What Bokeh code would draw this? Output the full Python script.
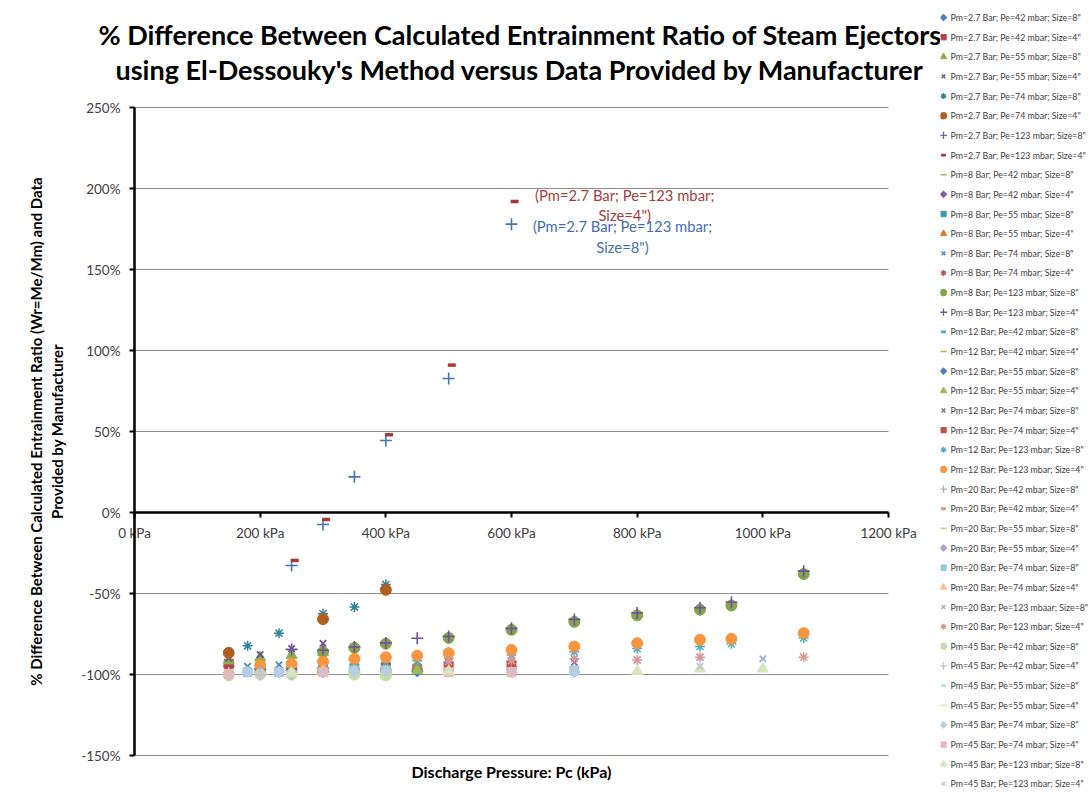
import numpy as np
from bokeh.plotting import figure
from bokeh.models import (Range1d, FixedTicker, PrintfTickFormatter, LinearAxis,
                          Title, ColumnDataSource)
from bokeh.layouts import row
from bokeh.embed import file_html
from bokeh.resources import INLINE
from bokeh.core.properties import value

# ---------------- data ----------------
SERIES = [
    'Pm=2.7 Bar; Pe=42 mbar; Size=8"', 'Pm=2.7 Bar; Pe=42 mbar; Size=4"',
    'Pm=2.7 Bar; Pe=55 mbar; Size=8"', 'Pm=2.7 Bar; Pe=55 mbar; Size=4"',
    'Pm=2.7 Bar; Pe=74 mbar; Size=8"', 'Pm=2.7 Bar; Pe=74 mbar; Size=4"',
    'Pm=2.7 Bar; Pe=123 mbar; Size=8"', 'Pm=2.7 Bar; Pe=123 mbar; Size=4"',
    'Pm=8 Bar; Pe=42 mbar; Size=8"', 'Pm=8 Bar; Pe=42 mbar; Size=4"',
    'Pm=8 Bar; Pe=55 mbar; Size=8"', 'Pm=8 Bar; Pe=55 mbar; Size=4"',
    'Pm=8 Bar; Pe=74 mbar; Size=8"', 'Pm=8 Bar; Pe=74 mbar; Size=4"',
    'Pm=8 Bar; Pe=123 mbar; Size=8"', 'Pm=8 Bar; Pe=123 mbar; Size=4"',
    'Pm=12 Bar; Pe=42 mbar; Size=8"', 'Pm=12 Bar; Pe=42 mbar; Size=4"',
    'Pm=12 Bar; Pe=55 mbar; Size=8"', 'Pm=12 Bar; Pe=55 mbar; Size=4"',
    'Pm=12 Bar; Pe=74 mbar; Size=8"', 'Pm=12 Bar; Pe=74 mbar; Size=4"',
    'Pm=12 Bar; Pe=123 mbar; Size=8"', 'Pm=12 Bar; Pe=123 mbar; Size=4"',
    'Pm=20 Bar; Pe=42 mbar; Size=8"', 'Pm=20 Bar; Pe=42 mbar; Size=4"',
    'Pm=20 Bar; Pe=55 mbar; Size=8"', 'Pm=20 Bar; Pe=55 mbar; Size=4"',
    'Pm=20 Bar; Pe=74 mbar; Size=8"', 'Pm=20 Bar; Pe=74 mbar; Size=4"',
    'Pm=20 Bar; Pe=123 mbaar; Size=8"', 'Pm=20 Bar; Pe=123 mbar; Size=4"',
    'Pm=45 Bar; Pe=42 mbar; Size=8"', 'Pm=45 Bar; Pe=42 mbar; Size=4"',
    'Pm=45 Bar; Pe=55 mbar; Size=8"', 'Pm=45 Bar; Pe=55 mbar; Size=4"',
    'Pm=45 Bar; Pe=74 mbar; Size=8"', 'Pm=45 Bar; Pe=74 mbar; Size=4"',
    'Pm=45 Bar; Pe=123 mbar; Size=8"', 'Pm=45 Bar; Pe=123 mbar; Size=4"',
]

# discharge pressure (kPa) and % difference, one pair per series
x_27_42_8 = [150, 200, 250];            y_27_42_8 = [-95, -96.5, -97.5]
x_27_42_4 = [150, 200, 250];            y_27_42_4 = [-93.4, -95, -96]
x_27_55_8 = [150, 200, 250, 300];       y_27_55_8 = [-91.5, -89.5, -88, -86.5]
x_27_55_4 = [150, 200, 250, 300];       y_27_55_4 = [-90, -87.7, -84, -80.7]
x_27_74_8 = [180, 230, 300, 350, 400];  y_27_74_8 = [-82.3, -74.5, -62.5, -58.4, -44.5]
x_27_74_4 = [150, 300, 400];            y_27_74_4 = [-86.6, -65.8, -47.7]
x_27_123_8 = [250, 300, 350, 400, 500, 600]; y_27_123_8 = [-32.7, -7.4, 22, 44.4, 82.7, 178]
x_27_123_4 = [255, 305, 405, 505, 605];      y_27_123_4 = [-29.6, -4.3, 48, 91, 192]

x_8_42_8 = [200, 250, 300];             y_8_42_8 = [-98, -97.5, -97]
x_8_42_4 = [200, 250, 300];             y_8_42_4 = [-97, -96.5, -96]
x_8_55_8 = [300, 350, 400, 450];        y_8_55_8 = [-97, -96.5, -96, -96.5]
x_8_55_4 = [300, 350, 400, 450];        y_8_55_4 = [-96, -95.5, -95, -95]
x_8_74_8 = [180, 230, 400, 500];        y_8_74_8 = [-95, -94, -93.5, -93]
x_8_74_4 = [400, 500, 600];             y_8_74_4 = [-93, -92.4, -92]
x_8_123_8 = [300, 350, 400, 500, 600, 700, 800, 900, 950, 1065]
y_8_123_8 = [-86, -83.5, -81, -77.4, -72.4, -67.5, -63.5, -60, -57.4, -38]
x_8_123_4 = [250, 300, 350, 400, 450, 500, 600, 700, 800, 900, 950, 1065]
y_8_123_4 = [-84.5, -85, -83, -80.5, -77.6, -76.5, -71.5, -66, -62, -58.8, -55.4, -36.2]

x_12_42_8 = [200, 250];                 y_12_42_8 = [-99, -98.5]
x_12_42_4 = [200, 250];                 y_12_42_4 = [-98.5, -98]
x_12_55_8 = [300, 350, 400, 450];       y_12_55_8 = [-98.5, -98.5, -98, -98]
x_12_55_4 = [300, 350, 400, 450];       y_12_55_4 = [-97.5, -97.5, -97, -97.5]
x_12_74_8 = [400, 500, 600, 700];       y_12_74_8 = [-95, -94.5, -93.5, -92.5]
x_12_74_4 = [400, 500, 600];            y_12_74_4 = [-96, -95, -94.5]
x_12_123_8 = [300, 350, 400, 450, 500, 600, 700, 800, 900, 950, 1065]
y_12_123_8 = [-95, -93.5, -92.5, -91.5, -90, -88, -86, -84, -82.7, -81, -77.4]
x_12_123_4 = [200, 250, 300, 350, 400, 450, 500, 600, 700, 800, 900, 950, 1065]
y_12_123_4 = [-94.4, -93.4, -92, -90.3, -89.3, -88.3, -86.8, -84.8, -82.7, -80.7, -78.6, -78, -74.5]

x_20_42_8 = [150, 200];                 y_20_42_8 = [-99, -99]
x_20_42_4 = [150, 200];                 y_20_42_4 = [-99.5, -99.5]
x_20_55_8 = [200, 250, 300];            y_20_55_8 = [-99, -99, -99]
x_20_55_4 = [200, 250, 300];            y_20_55_4 = [-98.5, -98.5, -98.5]
x_20_74_8 = [180, 230, 350, 400, 700];  y_20_74_8 = [-98.6, -98.6, -97.5, -97.5, -97.5]
x_20_74_4 = [300, 400, 500];            y_20_74_4 = [-98, -98, -98]
x_20_123_8 = [600, 700, 800, 900, 1000]; y_20_123_8 = [-91.5, -90.3, -91, -89.3, -90.3]
x_20_123_4 = [500, 600, 700, 800, 900, 1065]; y_20_123_4 = [-92, -91.4, -90.3, -91, -89.3, -89.3]

x_45_42_8 = [150, 200, 250, 350, 400];  y_45_42_8 = [-100.5, -100, -100, -100, -100.6]
x_45_42_4 = [150, 200, 250];            y_45_42_4 = [-100, -100, -100]
x_45_55_8 = [250, 300];                 y_45_55_8 = [-100, -100]
x_45_55_4 = [250, 300];                 y_45_55_4 = [-100, -100]
x_45_74_8 = [180, 230, 350, 400, 600, 700]; y_45_74_8 = [-98.6, -98.6, -98, -98, -98.6, -98.6]
x_45_74_4 = [150, 300, 500, 600];       y_45_74_4 = [-99.6, -98.6, -98.6, -98.6]
x_45_123_8 = [250, 500, 800, 900, 1000]; y_45_123_8 = [-99, -98, -98, -96.5, -96.5]
x_45_123_4 = [200, 300, 600, 700, 900]; y_45_123_4 = [-99.6, -99, -97.5, -97, -95]

X_TICKS = [0, 200, 400, 600, 800, 1000, 1200]
Y_TICKS = [-150, -100, -50, 0, 50, 100, 150, 200, 250]
X_MIN, X_MAX = 0, 1200
Y_MIN, Y_MAX = -150, 250

XS = [x_27_42_8, x_27_42_4, x_27_55_8, x_27_55_4, x_27_74_8, x_27_74_4, x_27_123_8, x_27_123_4,
      x_8_42_8, x_8_42_4, x_8_55_8, x_8_55_4, x_8_74_8, x_8_74_4, x_8_123_8, x_8_123_4,
      x_12_42_8, x_12_42_4, x_12_55_8, x_12_55_4, x_12_74_8, x_12_74_4, x_12_123_8, x_12_123_4,
      x_20_42_8, x_20_42_4, x_20_55_8, x_20_55_4, x_20_74_8, x_20_74_4, x_20_123_8, x_20_123_4,
      x_45_42_8, x_45_42_4, x_45_55_8, x_45_55_4, x_45_74_8, x_45_74_4, x_45_123_8, x_45_123_4]
YS = [y_27_42_8, y_27_42_4, y_27_55_8, y_27_55_4, y_27_74_8, y_27_74_4, y_27_123_8, y_27_123_4,
      y_8_42_8, y_8_42_4, y_8_55_8, y_8_55_4, y_8_74_8, y_8_74_4, y_8_123_8, y_8_123_4,
      y_12_42_8, y_12_42_4, y_12_55_8, y_12_55_4, y_12_74_8, y_12_74_4, y_12_123_8, y_12_123_4,
      y_20_42_8, y_20_42_4, y_20_55_8, y_20_55_4, y_20_74_8, y_20_74_4, y_20_123_8, y_20_123_4,
      y_45_42_8, y_45_42_4, y_45_55_8, y_45_55_4, y_45_74_8, y_45_74_4, y_45_123_8, y_45_123_4]

# ---------------- styles ----------------
MARKERS = ["diamond", "square", "triangle", "x", "asterisk", "circle", "cross", "shortdash",
           "longdash", "diamond", "square", "triangle", "x", "asterisk", "circle", "cross",
           "shortdash", "longdash", "diamond", "triangle", "x", "square", "asterisk", "circle",
           "cross", "shortdash", "longdash", "diamond", "square", "triangle", "x", "asterisk",
           "circle", "cross", "shortdash", "longdash", "diamond", "square", "triangle", "x"]
COLORS = ["#4F81BD", "#B5423F", "#8DB04C", "#6F5596", "#2F8299", "#B0601E", "#4572B8", "#A83A36",
          "#9BBB59", "#7B5FA0", "#3D98B3", "#E0782C", "#4F81BD", "#C0504D", "#84A549", "#6E50A0",
          "#4BACC6", "#F79646", "#4F81BD", "#9BBB59", "#8064A2", "#C0504D", "#4BACC6", "#F7963F",
          "#95B3D7", "#D99694", "#C3D69B", "#B3A2C7", "#93CDDD", "#FAC090", "#95B3D7", "#D99694",
          "#CADBAA", "#C4B8D6", "#B7DEE8", "#FCD5B5", "#B9CDE5", "#E6B9B8", "#D7E4BD", "#C9C3D6"]
BK_MARKER = {"diamond": "square", "square": "square", "triangle": "triangle", "x": "x",
             "asterisk": "asterisk", "circle": "circle", "cross": "cross",
             "shortdash": "dash", "longdash": "dash"}
SIZE = {"diamond": 8, "square": 9, "triangle": 11, "x": 9, "asterisk": 10, "circle": 11,
        "cross": 12, "shortdash": 8, "longdash": 11}
LWIDTH = {"diamond": 1, "square": 1, "triangle": 1, "x": 1.8, "asterisk": 1.5, "circle": 1,
          "cross": 1.6, "shortdash": 3.5, "longdash": 2}
ANGLE = {"diamond": np.pi / 4}

FONT = "Lato"
TXT = "#404040"

# ---------------- geometry (canvas pixels) ----------------
W1, W2, H = 940, 150, 794
PL, PR, PT, PB = 134, 888, 107, 755        # edges of the 0..1200 kPa / -150..250 % area
PAD_T, PAD_B = 12, 10                      # extra room so the end tick labels are not clipped
PX = (PR - PL) / (X_MAX - X_MIN)           # px per kPa
PY = (PB - PT) / (Y_MAX - Y_MIN)           # px per %

# ---------------- main plot ----------------
p = figure(width=W1, height=H,
           x_range=Range1d(X_MIN - PL / PX, X_MIN + (W1 - PL) / PX),
           y_range=Range1d(Y_MIN - PAD_B / PY, Y_MAX + PAD_T / PY),
           toolbar_location=None, output_backend="svg", frame_align=False,
           min_border_left=0, min_border_right=0, min_border_top=PT - PAD_T,
           min_border_bottom=H - PB - PAD_B, outline_line_color=None,
           background_fill_color="white")
p.xgrid.visible = False
p.ygrid.visible = False
p.xaxis.visible = False

# horizontal gridlines, only across the 0..1200 kPa span
p.segment(x0=[X_MIN] * len(Y_TICKS), x1=[X_MAX] * len(Y_TICKS), y0=Y_TICKS, y1=Y_TICKS,
          line_color="#8F8F8F", line_width=1)

ya = p.yaxis[0]
ya.fixed_location = 0
ya.bounds = (Y_MIN, Y_MAX)
ya.ticker = FixedTicker(ticks=Y_TICKS)
ya.formatter = PrintfTickFormatter(format="%d%%")
ya.axis_line_color = "black"
ya.axis_line_width = 2.5
ya.major_tick_line_color = "black"
ya.major_tick_line_width = 2
ya.major_tick_out = 5
ya.major_tick_in = 0
ya.minor_tick_line_color = None
ya.major_label_text_font = FONT
ya.major_label_text_font_size = "13.5px"
ya.major_label_text_color = TXT
ya.major_label_standoff = 9
ya.axis_label = ("% Difference Between Calculated Entrainment Ratio (Wr=Me/Mm) and Data\n"
                 "Provided by Manufacturer")
ya.axis_label_text_font = FONT
ya.axis_label_text_font_size = "15px"
ya.axis_label_text_font_style = "bold"
ya.axis_label_text_color = "black"
ya.axis_label_standoff = 12

xa = LinearAxis(fixed_location=0, bounds=(X_MIN, X_MAX), ticker=FixedTicker(ticks=X_TICKS),
                formatter=PrintfTickFormatter(format="%d kPa"))
xa.axis_line_color = "black"
xa.axis_line_width = 2.5
xa.major_tick_line_color = "black"
xa.major_tick_line_width = 2
xa.major_tick_out = 5
xa.major_tick_in = 0
xa.minor_tick_line_color = None
xa.major_label_text_font = FONT
xa.major_label_text_font_size = "13.5px"
xa.major_label_text_color = TXT
xa.major_label_standoff = 7
p.add_layout(xa, "below")

p.add_layout(Title(text="Discharge Pressure: Pc (kPa)", align="left", offset=411,
                   text_font=FONT, text_font_size="16px", text_font_style="bold",
                   text_color="black", standoff=-12), "below")

p.add_layout(Title(text="using El-Dessouky's Method versus Data Provided by Manufacturer",
                   align="left", offset=115, text_font=FONT, text_font_size="27px",
                   text_font_style="bold", text_color="black", standoff=20), "above")
p.add_layout(Title(text="% Difference Between Calculated Entrainment Ratio of Steam Ejectors",
                   align="left", offset=98, text_font=FONT, text_font_size="27px",
                   text_font_style="bold", text_color="black", standoff=-20), "above")

for i, name in enumerate(SERIES):
    m = MARKERS[i]
    c = COLORS[i]
    p.scatter(XS[i], YS[i], marker=BK_MARKER[m], size=SIZE[m], angle=ANGLE.get(m, 0),
              fill_color=c, line_color=c, line_width=LWIDTH[m])

# data labels for the two Pm=2.7 Bar, Pe=123 mbar series
for idx, dx, dy, col in [(7, 110, 3.5, "#A5403C"), (6, 111, 12.5, "#4470B0")]:
    lab = "(" + SERIES[idx].replace("; Size", ";\nSize") + ")"
    p.text(x=[XS[idx][-1]], y=[YS[idx][-1]], text=[lab], x_offset=dx, y_offset=dy,
           text_align="center", text_baseline="middle", text_color=col,
           text_font=value(FONT), text_font_size="14.8px", text_line_height=1.15)

# ---------------- legend panel (one row per series) ----------------
lf = figure(width=W2, height=H, x_range=Range1d(0, W2), y_range=Range1d(H, 0),
            x_axis_location=None, y_axis_location=None, toolbar_location=None,
            output_backend="svg", min_border=0, outline_line_color=None, frame_align=False)
lf.grid.visible = False
n = len(SERIES)
ly = [17 + 19.65 * i for i in range(n)]
lsrc = ColumnDataSource(dict(
    x=[3] * n, y=ly, marker=[BK_MARKER[m] for m in MARKERS], color=COLORS,
    size=[SIZE[m] * 0.6 for m in MARKERS], lw=[max(1, LWIDTH[m] * 0.8) for m in MARKERS],
    angle=[ANGLE.get(m, 0) for m in MARKERS], tx=[10] * n, name=SERIES))
lf.scatter(x="x", y="y", marker="marker", size="size", angle="angle", fill_color="color",
           line_color="color", line_width="lw", source=lsrc)
lf.text(x="tx", y="y", text="name", source=lsrc, text_baseline="middle", text_align="left",
        text_font=value(FONT), text_font_size="8.8px", text_color=TXT)

layout = row(p, lf)
open("out.html", "w").write(file_html(layout, INLINE))
